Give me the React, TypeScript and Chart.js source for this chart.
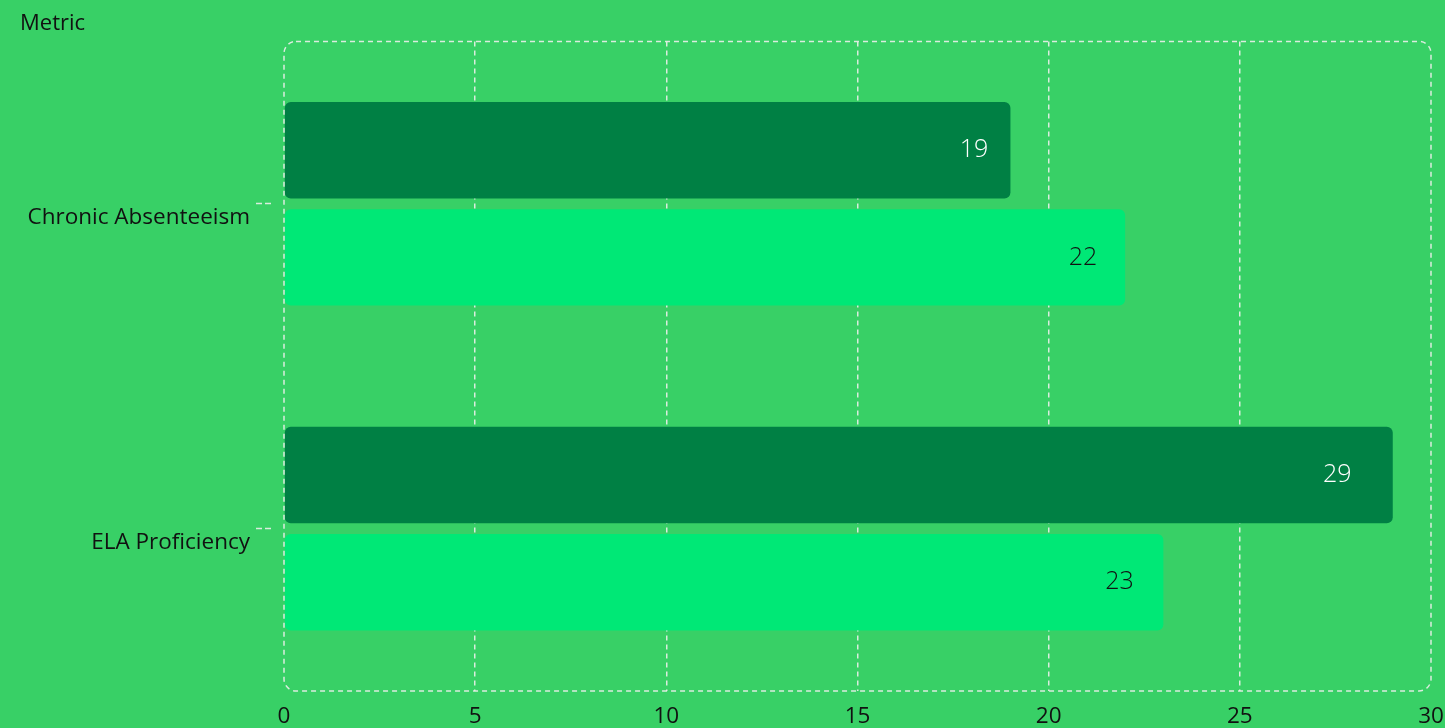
import React, { useEffect, useRef } from 'react';
import { Chart, registerables } from 'chart.js';

Chart.register(...registerables);

const categories = ['Chronic Absenteeism', 'ELA Proficiency'];
const seriesA = [19, 29];
const seriesB = [22, 23];
const seriesNames = ['Series A', 'Series B'];
const xMin = 0;
const xMax = 30;
const xStep = 5;

const BG = '#38D066';
const DARK = '#008044';
const LIGHT = '#00E876';
const GRID = 'rgba(232,238,232,0.92)';
const FONT = "'Open Sans', sans-serif";

const roundedBorder = {
  id: 'roundedBorder',
  afterDatasetsDraw(chart: any) {
    const { ctx, chartArea: a } = chart;
    const r = 12;
    ctx.save();
    ctx.strokeStyle = GRID;
    ctx.lineWidth = 1.5;
    ctx.setLineDash([5, 4]);
    ctx.beginPath();
    ctx.roundRect(a.left, a.top, a.right - a.left, a.bottom - a.top, r);
    ctx.stroke();
    ctx.restore();
  },
};

const barLabels = {
  id: 'barLabels',
  afterDatasetsDraw(chart: any) {
    const { ctx } = chart;
    const xs = chart.scales.x;
    const colors = ['#ffffff', '#111111'];
    ctx.save();
    ctx.font = `300 25px ${FONT}`;
    ctx.textAlign = 'center';
    ctx.textBaseline = 'middle';
    chart.data.datasets.forEach((ds: any, di: number) => {
      const meta = chart.getDatasetMeta(di);
      meta.data.forEach((el: any, i: number) => {
        const v = ds.data[i];
        ctx.fillStyle = colors[di];
        ctx.fillText(String(v), xs.getPixelForValue(v * 0.95), el.y);
      });
    });
    ctx.restore();
  },
};

export default function App() {
  const ref = useRef<HTMLCanvasElement>(null);
  useEffect(() => {
    document.body.style.margin = '0';
    document.body.style.background = BG;
    const chart = new Chart(ref.current!, {
      type: 'bar',
      data: {
        labels: categories,
        datasets: [
          {
            label: seriesNames[0],
            data: seriesA,
            backgroundColor: DARK,
            borderRadius: 6,
            borderSkipped: false,
            categoryPercentage: 0.66,
            barPercentage: 0.9,
          },
          {
            label: seriesNames[1],
            data: seriesB,
            backgroundColor: LIGHT,
            borderRadius: 6,
            borderSkipped: false,
            categoryPercentage: 0.66,
            barPercentage: 0.9,
          },
        ],
      },
      options: {
        indexAxis: 'y',
        animation: false,
        responsive: true,
        maintainAspectRatio: false,
        layout: { padding: { left: 20, right: 0, top: 0, bottom: 0 } },
        plugins: {
          legend: { display: false },
          tooltip: { enabled: false },
          title: {
            display: true,
            text: 'Metric',
            align: 'start',
            color: '#111',
            font: { family: FONT, size: 22, weight: 'normal' },
            padding: { top: 11, bottom: 4 },
          },
        },
        scales: {
          x: {
            min: xMin,
            max: xMax,
            border: { display: false, dash: [5, 4] },
            afterFit: (s: any) => {
              s.height = 37;
              s.paddingRight = 14;
              s.paddingLeft = 0;
            },
            grid: {
              color: (c: any) =>
                c.tick && (c.tick.value === xMin || c.tick.value === xMax) ? 'transparent' : GRID,
              lineWidth: 1.5,
              drawTicks: false,
            } as any,
            ticks: {
              stepSize: xStep,
              padding: 12,
              color: '#111',
              font: { family: FONT, size: 22.5 },
            },
          },
          y: {
            border: { display: false },
            afterFit: (s: any) => {
              s.width = 264;
            },
            grid: {
              offset: false,
              drawOnChartArea: false,
              drawTicks: true,
              tickLength: 28,
              tickColor: GRID,
              tickWidth: 1.5,
              tickBorderDash: [6, 3, 6, 100],
            } as any,
            ticks: {
              padding: 6,
              labelOffset: 14,
              color: '#111',
              font: { family: FONT, size: 22.5 },
            },
          },
        },
      },
      plugins: [roundedBorder, barLabels],
    } as any);
    return () => chart.destroy();
  }, []);
  return (
    <div style={{ position: 'fixed', left: 0, top: 0, width: 1445, height: 728, background: BG }}>
      <canvas ref={ref} />
    </div>
  );
}
